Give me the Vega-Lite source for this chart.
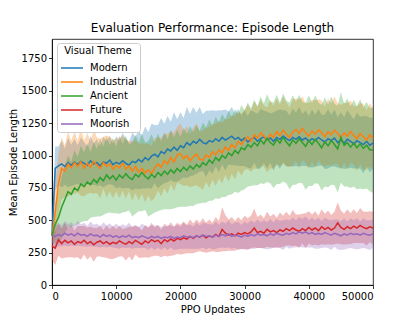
{
"$schema": "https://vega.github.io/schema/vega-lite/v6.json",
"width": 321, "height": 246,
"autosize": "none",
"padding": {"left": 52, "top": 39, "right": 42, "bottom": 41},
"title": {"text": "Evaluation Performance: Episode Length", "fontSize": 12, "font": "DejaVu Sans", "fontWeight": "normal", "color": "black", "offset": 4},
"data": {"values": [
{"s":"Modern","x":0,"m":380,"l":320,"h":440},
{"s":"Modern","x":500,"m":900,"l":730,"h":1070},
{"s":"Modern","x":1000,"m":920,"l":770,"h":1070},
{"s":"Modern","x":1500,"m":935,"l":755,"h":1115},
{"s":"Modern","x":2000,"m":915,"l":775,"h":1055},
{"s":"Modern","x":2500,"m":945,"l":755,"h":1135},
{"s":"Modern","x":3000,"m":925,"l":765,"h":1085},
{"s":"Modern","x":3500,"m":950,"l":775,"h":1125},
{"s":"Modern","x":4000,"m":930,"l":780,"h":1080},
{"s":"Modern","x":4500,"m":955,"l":770,"h":1140},
{"s":"Modern","x":5000,"m":940,"l":775,"h":1105},
{"s":"Modern","x":5500,"m":925,"l":780,"h":1070},
{"s":"Modern","x":6000,"m":960,"l":770,"h":1150},
{"s":"Modern","x":6500,"m":935,"l":775,"h":1095},
{"s":"Modern","x":7000,"m":945,"l":765,"h":1125},
{"s":"Modern","x":7500,"m":920,"l":770,"h":1070},
{"s":"Modern","x":8000,"m":950,"l":755,"h":1145},
{"s":"Modern","x":8500,"m":940,"l":770,"h":1110},
{"s":"Modern","x":9000,"m":965,"l":780,"h":1150},
{"s":"Modern","x":9500,"m":930,"l":770,"h":1090},
{"s":"Modern","x":10000,"m":948,"l":748,"h":1148},
{"s":"Modern","x":10500,"m":935,"l":755,"h":1115},
{"s":"Modern","x":11000,"m":960,"l":745,"h":1175},
{"s":"Modern","x":11500,"m":940,"l":750,"h":1130},
{"s":"Modern","x":12000,"m":925,"l":750,"h":1100},
{"s":"Modern","x":12500,"m":955,"l":730,"h":1180},
{"s":"Modern","x":13000,"m":945,"l":745,"h":1145},
{"s":"Modern","x":13500,"m":970,"l":740,"h":1200},
{"s":"Modern","x":14000,"m":950,"l":745,"h":1155},
{"s":"Modern","x":14500,"m":985,"l":745,"h":1225},
{"s":"Modern","x":15000,"m":965,"l":750,"h":1180},
{"s":"Modern","x":15500,"m":995,"l":745,"h":1245},
{"s":"Modern","x":16000,"m":1010,"l":785,"h":1235},
{"s":"Modern","x":16500,"m":990,"l":745,"h":1235},
{"s":"Modern","x":17000,"m":1030,"l":770,"h":1290},
{"s":"Modern","x":17500,"m":1015,"l":785,"h":1245},
{"s":"Modern","x":18000,"m":1050,"l":795,"h":1305},
{"s":"Modern","x":18500,"m":1035,"l":810,"h":1260},
{"s":"Modern","x":19000,"m":1065,"l":795,"h":1335},
{"s":"Modern","x":19500,"m":1040,"l":800,"h":1280},
{"s":"Modern","x":20000,"m":1075,"l":815,"h":1335},
{"s":"Modern","x":20500,"m":1060,"l":830,"h":1290},
{"s":"Modern","x":21000,"m":1100,"l":825,"h":1375},
{"s":"Modern","x":21500,"m":1080,"l":840,"h":1320},
{"s":"Modern","x":22000,"m":1110,"l":845,"h":1375},
{"s":"Modern","x":22500,"m":1095,"l":860,"h":1330},
{"s":"Modern","x":23000,"m":1125,"l":875,"h":1375},
{"s":"Modern","x":23500,"m":1100,"l":880,"h":1320},
{"s":"Modern","x":24000,"m":1090,"l":835,"h":1345},
{"s":"Modern","x":24500,"m":1115,"l":885,"h":1345},
{"s":"Modern","x":25000,"m":1105,"l":860,"h":1350},
{"s":"Modern","x":25500,"m":1130,"l":915,"h":1345},
{"s":"Modern","x":26000,"m":1110,"l":870,"h":1350},
{"s":"Modern","x":26500,"m":1140,"l":930,"h":1350},
{"s":"Modern","x":27000,"m":1120,"l":885,"h":1355},
{"s":"Modern","x":27500,"m":1135,"l":930,"h":1340},
{"s":"Modern","x":28000,"m":1150,"l":925,"h":1375},
{"s":"Modern","x":28500,"m":1125,"l":925,"h":1325},
{"s":"Modern","x":29000,"m":1140,"l":920,"h":1360},
{"s":"Modern","x":29500,"m":1115,"l":920,"h":1310},
{"s":"Modern","x":30000,"m":1135,"l":920,"h":1350},
{"s":"Modern","x":30500,"m":1105,"l":905,"h":1305},
{"s":"Modern","x":31000,"m":1125,"l":900,"h":1350},
{"s":"Modern","x":31500,"m":1140,"l":945,"h":1335},
{"s":"Modern","x":32000,"m":1110,"l":895,"h":1325},
{"s":"Modern","x":32500,"m":1130,"l":900,"h":1360},
{"s":"Modern","x":33000,"m":1145,"l":945,"h":1345},
{"s":"Modern","x":33500,"m":1120,"l":900,"h":1340},
{"s":"Modern","x":34000,"m":1135,"l":945,"h":1325},
{"s":"Modern","x":34500,"m":1110,"l":885,"h":1335},
{"s":"Modern","x":35000,"m":1140,"l":935,"h":1345},
{"s":"Modern","x":35500,"m":1125,"l":895,"h":1355},
{"s":"Modern","x":36000,"m":1150,"l":950,"h":1350},
{"s":"Modern","x":36500,"m":1130,"l":915,"h":1345},
{"s":"Modern","x":37000,"m":1115,"l":920,"h":1310},
{"s":"Modern","x":37500,"m":1140,"l":915,"h":1365},
{"s":"Modern","x":38000,"m":1125,"l":920,"h":1330},
{"s":"Modern","x":38500,"m":1145,"l":915,"h":1375},
{"s":"Modern","x":39000,"m":1120,"l":920,"h":1320},
{"s":"Modern","x":39500,"m":1135,"l":920,"h":1350},
{"s":"Modern","x":40000,"m":1110,"l":915,"h":1305},
{"s":"Modern","x":40500,"m":1130,"l":905,"h":1355},
{"s":"Modern","x":41000,"m":1115,"l":915,"h":1315},
{"s":"Modern","x":41500,"m":1140,"l":920,"h":1360},
{"s":"Modern","x":42000,"m":1120,"l":925,"h":1315},
{"s":"Modern","x":42500,"m":1105,"l":895,"h":1315},
{"s":"Modern","x":43000,"m":1130,"l":900,"h":1360},
{"s":"Modern","x":43500,"m":1115,"l":915,"h":1315},
{"s":"Modern","x":44000,"m":1135,"l":915,"h":1355},
{"s":"Modern","x":44500,"m":1100,"l":905,"h":1295},
{"s":"Modern","x":45000,"m":1120,"l":905,"h":1335},
{"s":"Modern","x":45500,"m":1095,"l":895,"h":1295},
{"s":"Modern","x":46000,"m":1125,"l":900,"h":1350},
{"s":"Modern","x":46500,"m":1110,"l":905,"h":1315},
{"s":"Modern","x":47000,"m":1090,"l":900,"h":1280},
{"s":"Modern","x":47500,"m":1115,"l":900,"h":1330},
{"s":"Modern","x":48000,"m":1100,"l":900,"h":1300},
{"s":"Modern","x":48500,"m":1085,"l":865,"h":1305},
{"s":"Modern","x":49000,"m":1110,"l":915,"h":1305},
{"s":"Modern","x":49500,"m":1080,"l":870,"h":1290},
{"s":"Modern","x":50000,"m":1095,"l":895,"h":1295},
{"s":"Industrial","x":0,"m":380,"l":320,"h":440},
{"s":"Industrial","x":500,"m":560,"l":360,"h":760},
{"s":"Industrial","x":1000,"m":780,"l":550,"h":1010},
{"s":"Industrial","x":1500,"m":900,"l":660,"h":1140},
{"s":"Industrial","x":2000,"m":880,"l":680,"h":1080},
{"s":"Industrial","x":2500,"m":935,"l":685,"h":1185},
{"s":"Industrial","x":3000,"m":905,"l":695,"h":1115},
{"s":"Industrial","x":3500,"m":945,"l":705,"h":1185},
{"s":"Industrial","x":4000,"m":915,"l":715,"h":1115},
{"s":"Industrial","x":4500,"m":950,"l":690,"h":1210},
{"s":"Industrial","x":5000,"m":900,"l":685,"h":1115},
{"s":"Industrial","x":5500,"m":940,"l":705,"h":1175},
{"s":"Industrial","x":6000,"m":910,"l":710,"h":1110},
{"s":"Industrial","x":6500,"m":955,"l":705,"h":1205},
{"s":"Industrial","x":7000,"m":925,"l":710,"h":1140},
{"s":"Industrial","x":7500,"m":900,"l":670,"h":1130},
{"s":"Industrial","x":8000,"m":945,"l":745,"h":1145},
{"s":"Industrial","x":8500,"m":915,"l":675,"h":1155},
{"s":"Industrial","x":9000,"m":935,"l":725,"h":1145},
{"s":"Industrial","x":9500,"m":895,"l":670,"h":1120},
{"s":"Industrial","x":10000,"m":925,"l":725,"h":1125},
{"s":"Industrial","x":10500,"m":905,"l":670,"h":1140},
{"s":"Industrial","x":11000,"m":940,"l":730,"h":1150},
{"s":"Industrial","x":11500,"m":895,"l":670,"h":1120},
{"s":"Industrial","x":12000,"m":920,"l":725,"h":1115},
{"s":"Industrial","x":12500,"m":880,"l":650,"h":1110},
{"s":"Industrial","x":13000,"m":915,"l":710,"h":1120},
{"s":"Industrial","x":13500,"m":870,"l":650,"h":1090},
{"s":"Industrial","x":14000,"m":900,"l":705,"h":1095},
{"s":"Industrial","x":14500,"m":865,"l":640,"h":1090},
{"s":"Industrial","x":15000,"m":890,"l":690,"h":1090},
{"s":"Industrial","x":15500,"m":860,"l":645,"h":1075},
{"s":"Industrial","x":16000,"m":905,"l":675,"h":1135},
{"s":"Industrial","x":16500,"m":935,"l":730,"h":1140},
{"s":"Industrial","x":17000,"m":910,"l":685,"h":1135},
{"s":"Industrial","x":17500,"m":960,"l":750,"h":1170},
{"s":"Industrial","x":18000,"m":935,"l":705,"h":1165},
{"s":"Industrial","x":18500,"m":985,"l":780,"h":1190},
{"s":"Industrial","x":19000,"m":950,"l":725,"h":1175},
{"s":"Industrial","x":19500,"m":1005,"l":790,"h":1220},
{"s":"Industrial","x":20000,"m":1015,"l":780,"h":1250},
{"s":"Industrial","x":20500,"m":975,"l":765,"h":1185},
{"s":"Industrial","x":21000,"m":1000,"l":770,"h":1230},
{"s":"Industrial","x":21500,"m":960,"l":755,"h":1165},
{"s":"Industrial","x":22000,"m":990,"l":765,"h":1215},
{"s":"Industrial","x":22500,"m":1010,"l":770,"h":1250},
{"s":"Industrial","x":23000,"m":970,"l":755,"h":1185},
{"s":"Industrial","x":23500,"m":965,"l":735,"h":1195},
{"s":"Industrial","x":24000,"m":1005,"l":795,"h":1215},
{"s":"Industrial","x":24500,"m":985,"l":750,"h":1220},
{"s":"Industrial","x":25000,"m":1030,"l":815,"h":1245},
{"s":"Industrial","x":25500,"m":1005,"l":765,"h":1245},
{"s":"Industrial","x":26000,"m":1045,"l":825,"h":1265},
{"s":"Industrial","x":26500,"m":1020,"l":785,"h":1255},
{"s":"Industrial","x":27000,"m":1065,"l":850,"h":1280},
{"s":"Industrial","x":27500,"m":1040,"l":800,"h":1280},
{"s":"Industrial","x":28000,"m":1085,"l":860,"h":1310},
{"s":"Industrial","x":28500,"m":1060,"l":815,"h":1305},
{"s":"Industrial","x":29000,"m":1110,"l":885,"h":1335},
{"s":"Industrial","x":29500,"m":1085,"l":845,"h":1325},
{"s":"Industrial","x":30000,"m":1120,"l":890,"h":1350},
{"s":"Industrial","x":30500,"m":1145,"l":895,"h":1395},
{"s":"Industrial","x":31000,"m":1110,"l":875,"h":1345},
{"s":"Industrial","x":31500,"m":1160,"l":900,"h":1420},
{"s":"Industrial","x":32000,"m":1135,"l":895,"h":1375},
{"s":"Industrial","x":32500,"m":1175,"l":920,"h":1430},
{"s":"Industrial","x":33000,"m":1150,"l":915,"h":1385},
{"s":"Industrial","x":33500,"m":1120,"l":870,"h":1370},
{"s":"Industrial","x":34000,"m":1165,"l":900,"h":1430},
{"s":"Industrial","x":34500,"m":1140,"l":900,"h":1380},
{"s":"Industrial","x":35000,"m":1185,"l":930,"h":1440},
{"s":"Industrial","x":35500,"m":1155,"l":920,"h":1390},
{"s":"Industrial","x":36000,"m":1195,"l":935,"h":1455},
{"s":"Industrial","x":36500,"m":1165,"l":920,"h":1410},
{"s":"Industrial","x":37000,"m":1140,"l":910,"h":1370},
{"s":"Industrial","x":37500,"m":1180,"l":925,"h":1435},
{"s":"Industrial","x":38000,"m":1200,"l":960,"h":1440},
{"s":"Industrial","x":38500,"m":1170,"l":905,"h":1435},
{"s":"Industrial","x":39000,"m":1210,"l":965,"h":1455},
{"s":"Industrial","x":39500,"m":1175,"l":945,"h":1405},
{"s":"Industrial","x":40000,"m":1150,"l":895,"h":1405},
{"s":"Industrial","x":40500,"m":1190,"l":950,"h":1430},
{"s":"Industrial","x":41000,"m":1165,"l":905,"h":1425},
{"s":"Industrial","x":41500,"m":1200,"l":965,"h":1435},
{"s":"Industrial","x":42000,"m":1175,"l":925,"h":1425},
{"s":"Industrial","x":42500,"m":1145,"l":915,"h":1375},
{"s":"Industrial","x":43000,"m":1185,"l":930,"h":1440},
{"s":"Industrial","x":43500,"m":1160,"l":920,"h":1400},
{"s":"Industrial","x":44000,"m":1195,"l":935,"h":1455},
{"s":"Industrial","x":44500,"m":1170,"l":935,"h":1405},
{"s":"Industrial","x":45000,"m":1140,"l":890,"h":1390},
{"s":"Industrial","x":45500,"m":1175,"l":945,"h":1405},
{"s":"Industrial","x":46000,"m":1150,"l":895,"h":1405},
{"s":"Industrial","x":46500,"m":1185,"l":945,"h":1425},
{"s":"Industrial","x":47000,"m":1155,"l":930,"h":1380},
{"s":"Industrial","x":47500,"m":1130,"l":880,"h":1380},
{"s":"Industrial","x":48000,"m":1170,"l":935,"h":1405},
{"s":"Industrial","x":48500,"m":1145,"l":890,"h":1400},
{"s":"Industrial","x":49000,"m":1120,"l":890,"h":1350},
{"s":"Industrial","x":49500,"m":1160,"l":915,"h":1405},
{"s":"Industrial","x":50000,"m":1130,"l":895,"h":1365},
{"s":"Ancient","x":0,"m":380,"l":320,"h":440},
{"s":"Ancient","x":500,"m":470,"l":320,"h":620},
{"s":"Ancient","x":1000,"m":520,"l":320,"h":720},
{"s":"Ancient","x":1500,"m":600,"l":360,"h":840},
{"s":"Ancient","x":2000,"m":660,"l":400,"h":920},
{"s":"Ancient","x":2500,"m":720,"l":440,"h":1000},
{"s":"Ancient","x":3000,"m":700,"l":450,"h":950},
{"s":"Ancient","x":3500,"m":750,"l":460,"h":1040},
{"s":"Ancient","x":4000,"m":730,"l":470,"h":990},
{"s":"Ancient","x":4500,"m":780,"l":485,"h":1075},
{"s":"Ancient","x":5000,"m":760,"l":495,"h":1025},
{"s":"Ancient","x":5500,"m":795,"l":495,"h":1095},
{"s":"Ancient","x":6000,"m":775,"l":520,"h":1030},
{"s":"Ancient","x":6500,"m":815,"l":525,"h":1105},
{"s":"Ancient","x":7000,"m":790,"l":530,"h":1050},
{"s":"Ancient","x":7500,"m":830,"l":530,"h":1130},
{"s":"Ancient","x":8000,"m":805,"l":540,"h":1070},
{"s":"Ancient","x":8500,"m":850,"l":555,"h":1145},
{"s":"Ancient","x":9000,"m":820,"l":560,"h":1080},
{"s":"Ancient","x":9500,"m":845,"l":555,"h":1135},
{"s":"Ancient","x":10000,"m":810,"l":555,"h":1065},
{"s":"Ancient","x":10500,"m":850,"l":550,"h":1150},
{"s":"Ancient","x":11000,"m":825,"l":560,"h":1090},
{"s":"Ancient","x":11500,"m":860,"l":565,"h":1155},
{"s":"Ancient","x":12000,"m":830,"l":575,"h":1085},
{"s":"Ancient","x":12500,"m":815,"l":530,"h":1100},
{"s":"Ancient","x":13000,"m":855,"l":550,"h":1160},
{"s":"Ancient","x":13500,"m":835,"l":570,"h":1100},
{"s":"Ancient","x":14000,"m":870,"l":570,"h":1170},
{"s":"Ancient","x":14500,"m":840,"l":580,"h":1100},
{"s":"Ancient","x":15000,"m":820,"l":530,"h":1110},
{"s":"Ancient","x":15500,"m":855,"l":545,"h":1165},
{"s":"Ancient","x":16000,"m":830,"l":560,"h":1100},
{"s":"Ancient","x":16500,"m":870,"l":570,"h":1170},
{"s":"Ancient","x":17000,"m":845,"l":580,"h":1110},
{"s":"Ancient","x":17500,"m":880,"l":585,"h":1175},
{"s":"Ancient","x":18000,"m":855,"l":585,"h":1125},
{"s":"Ancient","x":18500,"m":890,"l":585,"h":1195},
{"s":"Ancient","x":19000,"m":865,"l":590,"h":1140},
{"s":"Ancient","x":19500,"m":900,"l":600,"h":1200},
{"s":"Ancient","x":20000,"m":875,"l":605,"h":1145},
{"s":"Ancient","x":20500,"m":910,"l":605,"h":1215},
{"s":"Ancient","x":21000,"m":885,"l":605,"h":1165},
{"s":"Ancient","x":21500,"m":920,"l":610,"h":1230},
{"s":"Ancient","x":22000,"m":895,"l":610,"h":1180},
{"s":"Ancient","x":22500,"m":930,"l":625,"h":1235},
{"s":"Ancient","x":23000,"m":910,"l":630,"h":1190},
{"s":"Ancient","x":23500,"m":945,"l":635,"h":1255},
{"s":"Ancient","x":24000,"m":925,"l":635,"h":1215},
{"s":"Ancient","x":24500,"m":965,"l":650,"h":1280},
{"s":"Ancient","x":25000,"m":940,"l":650,"h":1230},
{"s":"Ancient","x":25500,"m":985,"l":670,"h":1300},
{"s":"Ancient","x":26000,"m":960,"l":665,"h":1255},
{"s":"Ancient","x":26500,"m":1000,"l":680,"h":1320},
{"s":"Ancient","x":27000,"m":980,"l":680,"h":1280},
{"s":"Ancient","x":27500,"m":1020,"l":695,"h":1345},
{"s":"Ancient","x":28000,"m":1000,"l":700,"h":1300},
{"s":"Ancient","x":28500,"m":1040,"l":720,"h":1360},
{"s":"Ancient","x":29000,"m":1015,"l":710,"h":1320},
{"s":"Ancient","x":29500,"m":1060,"l":730,"h":1390},
{"s":"Ancient","x":30000,"m":1045,"l":740,"h":1350},
{"s":"Ancient","x":30500,"m":1085,"l":760,"h":1410},
{"s":"Ancient","x":31000,"m":1065,"l":765,"h":1365},
{"s":"Ancient","x":31500,"m":1100,"l":770,"h":1430},
{"s":"Ancient","x":32000,"m":1075,"l":770,"h":1380},
{"s":"Ancient","x":32500,"m":1120,"l":785,"h":1455},
{"s":"Ancient","x":33000,"m":1090,"l":780,"h":1400},
{"s":"Ancient","x":33500,"m":1135,"l":795,"h":1475},
{"s":"Ancient","x":34000,"m":1100,"l":785,"h":1415},
{"s":"Ancient","x":34500,"m":1080,"l":750,"h":1410},
{"s":"Ancient","x":35000,"m":1125,"l":780,"h":1470},
{"s":"Ancient","x":35500,"m":1095,"l":780,"h":1410},
{"s":"Ancient","x":36000,"m":1140,"l":800,"h":1480},
{"s":"Ancient","x":36500,"m":1105,"l":785,"h":1425},
{"s":"Ancient","x":37000,"m":1075,"l":740,"h":1410},
{"s":"Ancient","x":37500,"m":1120,"l":775,"h":1465},
{"s":"Ancient","x":38000,"m":1095,"l":775,"h":1415},
{"s":"Ancient","x":38500,"m":1130,"l":790,"h":1470},
{"s":"Ancient","x":39000,"m":1100,"l":785,"h":1415},
{"s":"Ancient","x":39500,"m":1070,"l":735,"h":1405},
{"s":"Ancient","x":40000,"m":1115,"l":765,"h":1465},
{"s":"Ancient","x":40500,"m":1085,"l":765,"h":1405},
{"s":"Ancient","x":41000,"m":1125,"l":785,"h":1465},
{"s":"Ancient","x":41500,"m":1095,"l":780,"h":1410},
{"s":"Ancient","x":42000,"m":1060,"l":730,"h":1390},
{"s":"Ancient","x":42500,"m":1105,"l":760,"h":1450},
{"s":"Ancient","x":43000,"m":1075,"l":755,"h":1395},
{"s":"Ancient","x":43500,"m":1115,"l":775,"h":1455},
{"s":"Ancient","x":44000,"m":1085,"l":770,"h":1400},
{"s":"Ancient","x":44500,"m":1050,"l":715,"h":1385},
{"s":"Ancient","x":45000,"m":1140,"l":790,"h":1490},
{"s":"Ancient","x":45500,"m":1080,"l":760,"h":1400},
{"s":"Ancient","x":46000,"m":1100,"l":760,"h":1440},
{"s":"Ancient","x":46500,"m":1065,"l":750,"h":1380},
{"s":"Ancient","x":47000,"m":1095,"l":760,"h":1430},
{"s":"Ancient","x":47500,"m":1060,"l":740,"h":1380},
{"s":"Ancient","x":48000,"m":1090,"l":745,"h":1435},
{"s":"Ancient","x":48500,"m":1055,"l":740,"h":1370},
{"s":"Ancient","x":49000,"m":1080,"l":745,"h":1415},
{"s":"Ancient","x":49500,"m":1045,"l":725,"h":1365},
{"s":"Ancient","x":50000,"m":1040,"l":710,"h":1370},
{"s":"Future","x":0,"m":300,"l":190,"h":410},
{"s":"Future","x":500,"m":285,"l":155,"h":415},
{"s":"Future","x":1000,"m":350,"l":225,"h":475},
{"s":"Future","x":1500,"m":320,"l":205,"h":435},
{"s":"Future","x":2000,"m":345,"l":210,"h":480},
{"s":"Future","x":2500,"m":325,"l":215,"h":435},
{"s":"Future","x":3000,"m":340,"l":215,"h":465},
{"s":"Future","x":3500,"m":315,"l":210,"h":420},
{"s":"Future","x":4000,"m":335,"l":215,"h":455},
{"s":"Future","x":4500,"m":325,"l":195,"h":455},
{"s":"Future","x":5000,"m":345,"l":235,"h":455},
{"s":"Future","x":5500,"m":320,"l":195,"h":445},
{"s":"Future","x":6000,"m":335,"l":220,"h":450},
{"s":"Future","x":6500,"m":310,"l":180,"h":440},
{"s":"Future","x":7000,"m":330,"l":220,"h":440},
{"s":"Future","x":7500,"m":340,"l":220,"h":460},
{"s":"Future","x":8000,"m":320,"l":215,"h":425},
{"s":"Future","x":8500,"m":335,"l":210,"h":460},
{"s":"Future","x":9000,"m":315,"l":200,"h":430},
{"s":"Future","x":9500,"m":330,"l":200,"h":460},
{"s":"Future","x":10000,"m":320,"l":210,"h":430},
{"s":"Future","x":10500,"m":340,"l":220,"h":460},
{"s":"Future","x":11000,"m":325,"l":220,"h":430},
{"s":"Future","x":11500,"m":315,"l":190,"h":440},
{"s":"Future","x":12000,"m":335,"l":220,"h":450},
{"s":"Future","x":12500,"m":320,"l":190,"h":450},
{"s":"Future","x":13000,"m":345,"l":235,"h":455},
{"s":"Future","x":13500,"m":330,"l":210,"h":450},
{"s":"Future","x":14000,"m":315,"l":210,"h":420},
{"s":"Future","x":14500,"m":340,"l":215,"h":465},
{"s":"Future","x":15000,"m":325,"l":210,"h":440},
{"s":"Future","x":15500,"m":350,"l":220,"h":480},
{"s":"Future","x":16000,"m":335,"l":225,"h":445},
{"s":"Future","x":16500,"m":345,"l":225,"h":465},
{"s":"Future","x":17000,"m":320,"l":215,"h":425},
{"s":"Future","x":17500,"m":350,"l":225,"h":475},
{"s":"Future","x":18000,"m":335,"l":220,"h":450},
{"s":"Future","x":18500,"m":355,"l":225,"h":485},
{"s":"Future","x":19000,"m":340,"l":230,"h":450},
{"s":"Future","x":19500,"m":360,"l":240,"h":480},
{"s":"Future","x":20000,"m":350,"l":235,"h":465},
{"s":"Future","x":20500,"m":365,"l":240,"h":490},
{"s":"Future","x":21000,"m":355,"l":245,"h":465},
{"s":"Future","x":21500,"m":375,"l":245,"h":505},
{"s":"Future","x":22000,"m":360,"l":245,"h":475},
{"s":"Future","x":22500,"m":380,"l":255,"h":505},
{"s":"Future","x":23000,"m":370,"l":260,"h":480},
{"s":"Future","x":23500,"m":385,"l":255,"h":515},
{"s":"Future","x":24000,"m":365,"l":250,"h":480},
{"s":"Future","x":24500,"m":380,"l":255,"h":505},
{"s":"Future","x":25000,"m":370,"l":260,"h":480},
{"s":"Future","x":25500,"m":390,"l":255,"h":525},
{"s":"Future","x":26000,"m":375,"l":255,"h":495},
{"s":"Future","x":26500,"m":430,"l":260,"h":600},
{"s":"Future","x":27000,"m":400,"l":260,"h":540},
{"s":"Future","x":27500,"m":385,"l":265,"h":505},
{"s":"Future","x":28000,"m":395,"l":265,"h":525},
{"s":"Future","x":28500,"m":380,"l":265,"h":495},
{"s":"Future","x":29000,"m":400,"l":275,"h":525},
{"s":"Future","x":29500,"m":390,"l":280,"h":500},
{"s":"Future","x":30000,"m":405,"l":275,"h":535},
{"s":"Future","x":30500,"m":395,"l":275,"h":515},
{"s":"Future","x":31000,"m":410,"l":285,"h":535},
{"s":"Future","x":31500,"m":440,"l":290,"h":590},
{"s":"Future","x":32000,"m":405,"l":285,"h":525},
{"s":"Future","x":32500,"m":415,"l":285,"h":545},
{"s":"Future","x":33000,"m":400,"l":285,"h":515},
{"s":"Future","x":33500,"m":430,"l":295,"h":565},
{"s":"Future","x":34000,"m":410,"l":290,"h":530},
{"s":"Future","x":34500,"m":420,"l":290,"h":550},
{"s":"Future","x":35000,"m":405,"l":290,"h":520},
{"s":"Future","x":35500,"m":425,"l":290,"h":560},
{"s":"Future","x":36000,"m":415,"l":295,"h":535},
{"s":"Future","x":36500,"m":435,"l":305,"h":565},
{"s":"Future","x":37000,"m":420,"l":305,"h":535},
{"s":"Future","x":37500,"m":440,"l":300,"h":580},
{"s":"Future","x":38000,"m":425,"l":305,"h":545},
{"s":"Future","x":38500,"m":415,"l":285,"h":545},
{"s":"Future","x":39000,"m":435,"l":320,"h":550},
{"s":"Future","x":39500,"m":420,"l":285,"h":555},
{"s":"Future","x":40000,"m":445,"l":320,"h":570},
{"s":"Future","x":40500,"m":425,"l":305,"h":545},
{"s":"Future","x":41000,"m":440,"l":310,"h":570},
{"s":"Future","x":41500,"m":420,"l":305,"h":535},
{"s":"Future","x":42000,"m":450,"l":315,"h":585},
{"s":"Future","x":42500,"m":430,"l":310,"h":550},
{"s":"Future","x":43000,"m":445,"l":315,"h":575},
{"s":"Future","x":43500,"m":425,"l":310,"h":540},
{"s":"Future","x":44000,"m":440,"l":315,"h":565},
{"s":"Future","x":44500,"m":480,"l":320,"h":640},
{"s":"Future","x":45000,"m":445,"l":315,"h":575},
{"s":"Future","x":45500,"m":430,"l":310,"h":550},
{"s":"Future","x":46000,"m":450,"l":315,"h":585},
{"s":"Future","x":46500,"m":435,"l":315,"h":555},
{"s":"Future","x":47000,"m":455,"l":325,"h":585},
{"s":"Future","x":47500,"m":440,"l":325,"h":555},
{"s":"Future","x":48000,"m":460,"l":325,"h":595},
{"s":"Future","x":48500,"m":445,"l":325,"h":565},
{"s":"Future","x":49000,"m":435,"l":305,"h":565},
{"s":"Future","x":49500,"m":450,"l":330,"h":570},
{"s":"Future","x":50000,"m":440,"l":315,"h":565},
{"s":"Moorish","x":0,"m":380,"l":300,"h":460},
{"s":"Moorish","x":500,"m":375,"l":290,"h":460},
{"s":"Moorish","x":1000,"m":390,"l":300,"h":480},
{"s":"Moorish","x":1500,"m":380,"l":300,"h":460},
{"s":"Moorish","x":2000,"m":400,"l":305,"h":495},
{"s":"Moorish","x":2500,"m":385,"l":300,"h":470},
{"s":"Moorish","x":3000,"m":395,"l":305,"h":485},
{"s":"Moorish","x":3500,"m":380,"l":300,"h":460},
{"s":"Moorish","x":4000,"m":400,"l":305,"h":495},
{"s":"Moorish","x":4500,"m":385,"l":300,"h":470},
{"s":"Moorish","x":5000,"m":390,"l":300,"h":480},
{"s":"Moorish","x":5500,"m":375,"l":295,"h":455},
{"s":"Moorish","x":6000,"m":395,"l":300,"h":490},
{"s":"Moorish","x":6500,"m":380,"l":295,"h":465},
{"s":"Moorish","x":7000,"m":385,"l":295,"h":475},
{"s":"Moorish","x":7500,"m":370,"l":290,"h":450},
{"s":"Moorish","x":8000,"m":390,"l":295,"h":485},
{"s":"Moorish","x":8500,"m":375,"l":290,"h":460},
{"s":"Moorish","x":9000,"m":385,"l":295,"h":475},
{"s":"Moorish","x":9500,"m":370,"l":290,"h":450},
{"s":"Moorish","x":10000,"m":380,"l":285,"h":475},
{"s":"Moorish","x":10500,"m":365,"l":280,"h":450},
{"s":"Moorish","x":11000,"m":380,"l":290,"h":470},
{"s":"Moorish","x":11500,"m":370,"l":285,"h":455},
{"s":"Moorish","x":12000,"m":385,"l":290,"h":480},
{"s":"Moorish","x":12500,"m":365,"l":280,"h":450},
{"s":"Moorish","x":13000,"m":375,"l":285,"h":465},
{"s":"Moorish","x":13500,"m":365,"l":285,"h":445},
{"s":"Moorish","x":14000,"m":380,"l":285,"h":475},
{"s":"Moorish","x":14500,"m":370,"l":285,"h":455},
{"s":"Moorish","x":15000,"m":360,"l":270,"h":450},
{"s":"Moorish","x":15500,"m":375,"l":290,"h":460},
{"s":"Moorish","x":16000,"m":365,"l":270,"h":460},
{"s":"Moorish","x":16500,"m":375,"l":290,"h":460},
{"s":"Moorish","x":17000,"m":360,"l":270,"h":450},
{"s":"Moorish","x":17500,"m":370,"l":290,"h":450},
{"s":"Moorish","x":18000,"m":365,"l":270,"h":460},
{"s":"Moorish","x":18500,"m":375,"l":290,"h":460},
{"s":"Moorish","x":19000,"m":360,"l":270,"h":450},
{"s":"Moorish","x":19500,"m":370,"l":275,"h":465},
{"s":"Moorish","x":20000,"m":365,"l":280,"h":450},
{"s":"Moorish","x":20500,"m":380,"l":280,"h":480},
{"s":"Moorish","x":21000,"m":370,"l":280,"h":460},
{"s":"Moorish","x":21500,"m":375,"l":280,"h":470},
{"s":"Moorish","x":22000,"m":365,"l":280,"h":450},
{"s":"Moorish","x":22500,"m":380,"l":280,"h":480},
{"s":"Moorish","x":23000,"m":370,"l":280,"h":460},
{"s":"Moorish","x":23500,"m":385,"l":290,"h":480},
{"s":"Moorish","x":24000,"m":375,"l":275,"h":475},
{"s":"Moorish","x":24500,"m":380,"l":290,"h":470},
{"s":"Moorish","x":25000,"m":370,"l":275,"h":465},
{"s":"Moorish","x":25500,"m":385,"l":280,"h":490},
{"s":"Moorish","x":26000,"m":375,"l":285,"h":465},
{"s":"Moorish","x":26500,"m":390,"l":290,"h":490},
{"s":"Moorish","x":27000,"m":380,"l":285,"h":475},
{"s":"Moorish","x":27500,"m":395,"l":290,"h":500},
{"s":"Moorish","x":28000,"m":375,"l":280,"h":470},
{"s":"Moorish","x":28500,"m":385,"l":285,"h":485},
{"s":"Moorish","x":29000,"m":380,"l":275,"h":485},
{"s":"Moorish","x":29500,"m":370,"l":275,"h":465},
{"s":"Moorish","x":30000,"m":385,"l":280,"h":490},
{"s":"Moorish","x":30500,"m":375,"l":275,"h":475},
{"s":"Moorish","x":31000,"m":390,"l":280,"h":500},
{"s":"Moorish","x":31500,"m":380,"l":280,"h":480},
{"s":"Moorish","x":32000,"m":395,"l":285,"h":505},
{"s":"Moorish","x":32500,"m":385,"l":285,"h":485},
{"s":"Moorish","x":33000,"m":390,"l":280,"h":500},
{"s":"Moorish","x":33500,"m":380,"l":275,"h":485},
{"s":"Moorish","x":34000,"m":395,"l":280,"h":510},
{"s":"Moorish","x":34500,"m":385,"l":285,"h":485},
{"s":"Moorish","x":35000,"m":400,"l":290,"h":510},
{"s":"Moorish","x":35500,"m":390,"l":285,"h":495},
{"s":"Moorish","x":36000,"m":385,"l":270,"h":500},
{"s":"Moorish","x":36500,"m":400,"l":295,"h":505},
{"s":"Moorish","x":37000,"m":390,"l":280,"h":500},
{"s":"Moorish","x":37500,"m":405,"l":290,"h":520},
{"s":"Moorish","x":38000,"m":395,"l":290,"h":500},
{"s":"Moorish","x":38500,"m":410,"l":295,"h":525},
{"s":"Moorish","x":39000,"m":400,"l":290,"h":510},
{"s":"Moorish","x":39500,"m":410,"l":290,"h":530},
{"s":"Moorish","x":40000,"m":395,"l":290,"h":500},
{"s":"Moorish","x":40500,"m":405,"l":290,"h":520},
{"s":"Moorish","x":41000,"m":390,"l":280,"h":500},
{"s":"Moorish","x":41500,"m":400,"l":280,"h":520},
{"s":"Moorish","x":42000,"m":390,"l":285,"h":495},
{"s":"Moorish","x":42500,"m":405,"l":290,"h":520},
{"s":"Moorish","x":43000,"m":395,"l":285,"h":505},
{"s":"Moorish","x":43500,"m":385,"l":270,"h":500},
{"s":"Moorish","x":44000,"m":400,"l":295,"h":505},
{"s":"Moorish","x":44500,"m":390,"l":275,"h":505},
{"s":"Moorish","x":45000,"m":380,"l":270,"h":490},
{"s":"Moorish","x":45500,"m":395,"l":275,"h":515},
{"s":"Moorish","x":46000,"m":385,"l":280,"h":490},
{"s":"Moorish","x":46500,"m":400,"l":285,"h":515},
{"s":"Moorish","x":47000,"m":390,"l":280,"h":500},
{"s":"Moorish","x":47500,"m":395,"l":275,"h":515},
{"s":"Moorish","x":48000,"m":385,"l":280,"h":490},
{"s":"Moorish","x":48500,"m":400,"l":285,"h":515},
{"s":"Moorish","x":49000,"m":390,"l":280,"h":500},
{"s":"Moorish","x":49500,"m":385,"l":270,"h":500},
{"s":"Moorish","x":50000,"m":395,"l":285,"h":505}
]},
"encoding": {
  "x": {"field": "x", "type": "quantitative", "scale": {"domain": [0, 50000], "nice": false, "zero": false},
        "axis": {"values": [0, 10000, 20000, 30000, 40000, 50000], "format": "d", "title": "PPO Updates"}}
},
"layer": [
  {"mark": {"type": "area", "opacity": 0.3},
   "encoding": {
     "y": {"field": "l", "type": "quantitative", "scale": {"domain": [0, 1900], "nice": false, "zero": false},
           "axis": {"values": [0, 250, 500, 750, 1000, 1250, 1500, 1750], "format": "d", "title": "Mean Episode Length"}},
     "y2": {"field": "h"},
     "color": {"field": "s", "type": "nominal", "legend": null,
               "scale": {"domain": ["Modern", "Industrial", "Ancient", "Future", "Moorish"], "range": ["#1f77b4", "#ff7f0e", "#2ca02c", "#d62728", "#9467bd"]}}
   }},
  {"mark": {"type": "line", "strokeWidth": 1.5},
   "encoding": {
     "y": {"field": "m", "type": "quantitative", "scale": {"domain": [0, 1900], "nice": false, "zero": false},
           "axis": {"values": [0, 250, 500, 750, 1000, 1250, 1500, 1750], "format": "d", "title": "Mean Episode Length"}},
     "color": {"field": "s", "type": "nominal",
               "scale": {"domain": ["Modern", "Industrial", "Ancient", "Future", "Moorish"], "range": ["#1f77b4", "#ff7f0e", "#2ca02c", "#d62728", "#9467bd"]},
               "legend": {"title": "Visual Theme", "orient": "none", "legendX": 5, "legendY": 4, "symbolType": "M-1,0H2.14", "symbolSize": 196, "symbolStrokeWidth": 1.5, "symbolFillColor": "transparent", "labelOffset": 14}}
   }}
],
"resolve": {"legend": {"color": "independent"}},
"config": {
  "font": "DejaVu Sans",
  "view": {"stroke": "black", "strokeWidth": 0.8},
  "axis": {"grid": false, "domainColor": "black", "domainWidth": 0.8, "tickColor": "black", "tickWidth": 0.8, "tickSize": 3.5,
           "labelFontSize": 10, "labelColor": "black", "titleFontSize": 10, "titleFontWeight": "normal", "titleColor": "black", "labelFont": "DejaVu Sans", "titleFont": "DejaVu Sans"},
  "axisX": {"labelPadding": 3, "titlePadding": 3},
  "axisY": {"labelPadding": 2, "titlePadding": 3},
  "legend": {"fillColor": "white", "strokeColor": "#cccccc", "cornerRadius": 3, "padding": 3,
             "titleFontSize": 10, "titleFontWeight": "normal", "titleColor": "black", "titleAnchor": "middle",
             "labelFontSize": 10, "labelColor": "black", "rowPadding": 1, "titlePadding": 4,
             "labelFont": "DejaVu Sans", "titleFont": "DejaVu Sans"}
}
}
